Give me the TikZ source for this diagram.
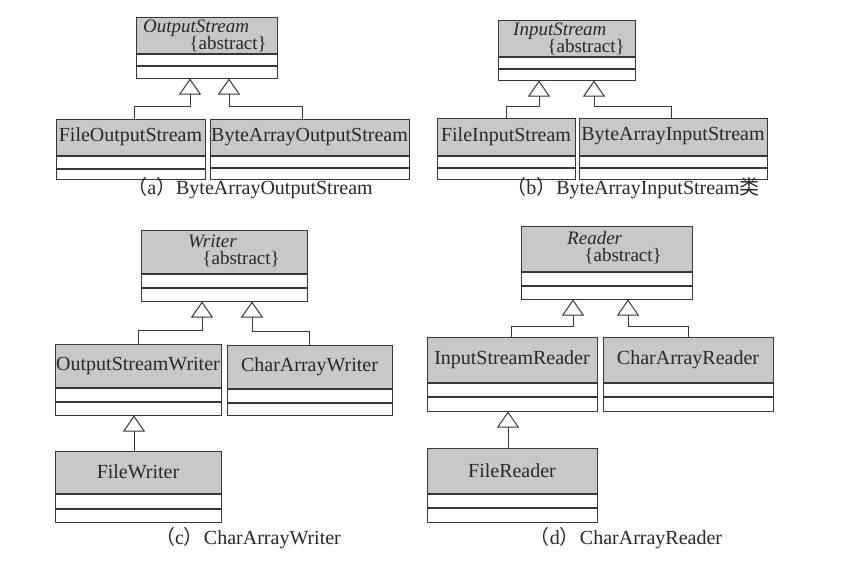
\documentclass[tikz,border=0pt]{standalone}
\usepackage{fontspec}
\setmainfont{Liberation Serif}
\newfontfamily\cjk{Noto Sans CJK SC}
\usetikzlibrary{arrows.meta}
\definecolor{hdrgray}{RGB}{200,200,200}
\definecolor{linegray}{RGB}{55,55,55}
\definecolor{txtgray}{RGB}{40,40,40}
\tikzset{
 hdr/.style={draw=linegray, fill=hdrgray, line width=1pt, inner sep=0pt, font=\fontsize{20}{22}\selectfont, text=txtgray},
 cmp/.style={draw=linegray, fill=white, line width=1pt, inner sep=0pt},
 lbl/.style={inner sep=0pt, font=\fontsize{20}{22}\selectfont, text=txtgray},
 abs/.style={inner sep=0pt, font=\fontsize{19}{21}\selectfont, text=txtgray},
 ital/.style={inner sep=0pt, font=\fontsize{19}{21}\selectfont\itshape, text=txtgray},
 inh/.style={draw=linegray, line width=1pt, -{Triangle[open, length=16pt, width=22pt, fill=white]}},
}
\newcommand\umlclass[8]{%
 \node[hdr, minimum width={#4-#2}, minimum height={#5-#3}] (#1) at ({(#2+#4)/2},{(#3+#5)/2}) {#8};
 \node[cmp, minimum width={#4-#2}, minimum height={#6-#5}, anchor=north] (#1a) at (#1.south) {};
 \node[cmp, minimum width={#4-#2}, minimum height={#7-#6}, anchor=north] (#1b) at (#1a.south) {};
}
\begin{document}
\begin{tikzpicture}[x=1pt,y=-1pt]
\useasboundingbox[fill=white] (0,0) rectangle (842,563);

% (a)
\umlclass{os}{136}{17}{277}{53}{64}{76}{}
\node[ital, anchor=base west] (osn) at (143,32) {OutputStream};
\node[abs, anchor=base east] (osx) at (267,49) {\{abstract\}};
\umlclass{fos}{56}{119}{205}{155}{167}{177}{FileOutputStream}
\umlclass{baos}{210}{119}{409}{155}{166}{177}{ByteArrayOutputStream}
\draw[inh] ([xshift=3.5pt]fos.north) -- ++(0,-12) -| ([xshift=-16.5pt]osb.south);
\draw[inh] ([xshift=-7.5pt]baos.north) -- ++(0,-12) -| ([xshift=22.5pt]osb.south);
\node[lbl] (capa) at (250,188) {{\cjk （}a{\cjk ）}ByteArrayOutputStream};

% (b)
\umlclass{is}{498}{20}{635}{56}{67}{78}{}
\node[ital, anchor=base west] (isn) at (513,35) {InputStream};
\node[abs, anchor=base east] (isx) at (625,52) {\{abstract\}};
\umlclass{fis}{437}{118}{575}{155}{166}{177}{FileInputStream}
\umlclass{bais}{579}{118}{767}{155}{166}{177}{ByteArrayInputStream}
\draw[inh] (fis.north) -- ++(0,-11) -| ([xshift=-27.5pt]isb.south);
\draw[inh] ([xshift=-2pt]bais.north) -- ++(0,-11) -| ([xshift=27.5pt]isb.south);
\node[lbl] (capb) at (633,188) {{\cjk （}b{\cjk ）}ByteArrayInputStream{\cjk 类}};

% (c)
\umlclass{w}{141}{230}{307}{273}{286}{299}{}
\node[ital, anchor=base west] (wn) at (188,247) {Writer};
\node[abs, anchor=base east] (wx) at (280,264) {\{abstract\}};
\umlclass{osw}{55}{344}{221}{387}{400}{413}{OutputStreamWriter}
\umlclass{caw}{227}{345}{392}{388}{401}{413}{CharArrayWriter}
\umlclass{fw}{55}{451}{221}{493}{507}{520}{FileWriter}
\draw[inh] (osw.north) -- ++(0,-13) -| ([xshift=-22pt]wb.south);
\draw[inh] (caw.north) -- ++(0,-13) -| ([xshift=28pt]wb.south);
\draw[inh] ([xshift=-4pt]fw.north) -- ([xshift=-4pt]oswb.south);
\node[lbl] (capc) at (248,538) {{\cjk （}c{\cjk ）}CharArrayWriter};

% (d)
\umlclass{r}{521}{226}{692}{271}{284}{297}{}
\node[ital, anchor=base west] (rn) at (567,244) {Reader};
\node[abs, anchor=base east] (rx) at (662,261) {\{abstract\}};
\umlclass{isr}{427}{337}{597}{382}{395}{409}{InputStreamReader}
\umlclass{car}{603}{337}{773}{382}{395}{409}{CharArrayReader}
\umlclass{fr}{427}{448}{597}{493}{506}{520}{FileReader}
\draw[inh] ([xshift=-1pt]isr.north) -- ++(0,-10) -| ([xshift=-33.5pt]rb.south);
\draw[inh] (car.north) -- ++(0,-10) -| ([xshift=21.5pt]rb.south);
\draw[inh] ([xshift=-4pt]fr.north) -- ([xshift=-4pt]isrb.south);
\node[lbl] (capd) at (626,538) {{\cjk （}d{\cjk ）}CharArrayReader};
\end{tikzpicture}
\end{document}
